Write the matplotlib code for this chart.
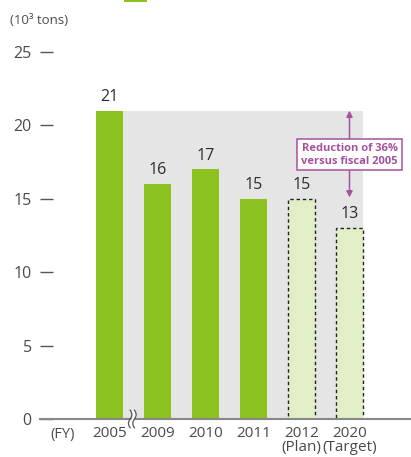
import numpy as np
import matplotlib
matplotlib.use("Agg")
import matplotlib.pyplot as plt
from matplotlib.patches import Rectangle

plt.rcParams["font.family"] = ["Open Sans", "DejaVu Sans"]

# Emissions by fiscal year (10^3 tons)
years = ["2005", "2009", "2010", "2011", "2012\n(Plan)", "2020\n(Target)"]
values = [21, 16, 17, 15, 15, 13]
planned = [False, False, False, False, True, True]
yticks = [0, 5, 10, 15, 20, 25]

GREEN = "#8cc21f"
PALE = "#e2efc6"
GREY_BG = "#e5e5e5"
PURPLE = "#a4529e"
TEXT = "#2f2a2b"
TICK = "#555555"

W, H = 411, 457
fig = plt.figure(figsize=(W / 100, H / 100), dpi=100)
ax = fig.add_axes([40 / W, 38 / H, 371 / W, (419 - 52) / H])

x = np.arange(len(values))
bw = 0.5625
ax.set_xlim(-(109.5 - 40) / 48, (411 - 109.5) / 48)
ax.set_ylim(0, 25)

# grey band behind the bars, up to the 2005 level
ax.add_patch(Rectangle((x[0] - bw / 2, 0), x[-1] - x[0] + bw, values[0],
                       facecolor=GREY_BG, edgecolor="none", zorder=0))

for xi, v, p in zip(x, values, planned):
    if p:
        ax.bar(xi, v, width=bw, facecolor=PALE, edgecolor="#222222",
               linestyle=(0, (2.5, 2)), linewidth=1, zorder=2)
    else:
        ax.bar(xi, v, width=bw, color=GREEN, zorder=2)
    ax.text(xi, v + 0.4, str(v), ha="center", va="bottom", fontsize=11.5,
            color=TEXT, zorder=3)

for s in ["left", "right", "top"]:
    ax.spines[s].set_visible(False)
ax.spines["bottom"].set_color("#888888")
ax.spines["bottom"].set_linewidth(1.5)

ax.set_yticks(yticks)
ax.tick_params(axis="y", direction="in", length=9.5, width=1, color=TICK,
               pad=6, labelsize=11.5, labelcolor="#4a4a4a")
ax.set_xticks(x)
ax.set_xticklabels(years, linespacing=0.92)
ax.tick_params(axis="x", length=0, pad=5, labelsize=11, labelcolor="#4a4a4a")
ax.text((63 - 109.5) / 48, -0.55, "(FY)", ha="center", va="top",
        fontsize=10.5, color="#4a4a4a", clip_on=False)

# axis break between 2005 and 2009
t = np.linspace(-1, 1, 60)
yy = t * 0.6
for dx in (0.43, 0.52):
    xx = dx + 0.035 * np.sin(np.pi * t)
    ax.plot(xx, yy, color="#555555", lw=0.9, zorder=5, clip_on=False)
ax.fill_betweenx(yy, 0.43 + 0.035 * np.sin(np.pi * t) + 0.015,
                 0.52 + 0.035 * np.sin(np.pi * t) - 0.015,
                 color="white", lw=0, zorder=4, clip_on=False)

# reduction arrow and note
ax.annotate("", xy=(x[-1], values[0]), xytext=(x[-1], 15.1),
            arrowprops=dict(arrowstyle="<|-|>,head_length=0.35,head_width=0.18",
                            color=PURPLE, lw=1.1, shrinkA=0, shrinkB=0), zorder=3)
ax.text(x[-1], 18.0, "Reduction of 36%\nversus fiscal 2005", ha="center",
        va="center", fontsize=8, fontweight="bold", color=PURPLE,
        linespacing=1.2, zorder=6,
        bbox=dict(boxstyle="square,pad=0.35", facecolor="white",
                  edgecolor=PURPLE, linewidth=1.1))

fig.text(10 / W, 1 - 20 / H, "(10³ tons)", ha="left", va="center",
         fontsize=9.5, color="#4a4a4a")

# legend swatch peeking in at the top edge
fig.patches.append(Rectangle((124 / W, 1 - 2 / H), 23 / W, 2 / H,
                             transform=fig.transFigure, facecolor=GREEN,
                             edgecolor="none"))

fig.savefig("out.png", dpi=100)
